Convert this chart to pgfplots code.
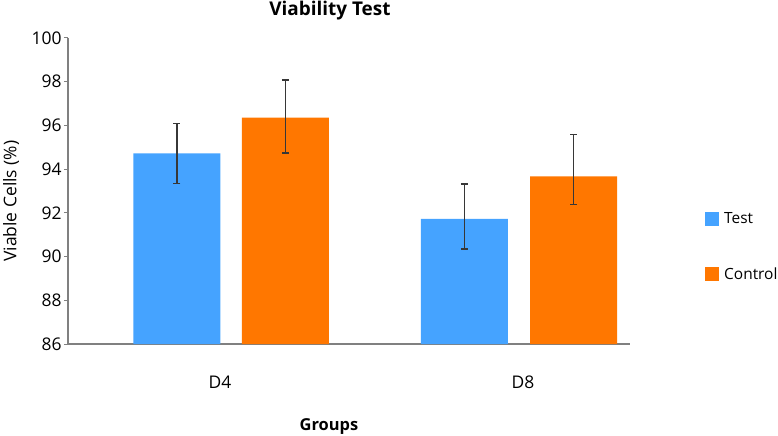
\documentclass[border=0pt]{standalone}
\usepackage{fontspec}
\setmainfont{Open Sans}
\usepackage{pgfplots}
\pgfplotsset{compat=1.18}
\definecolor{testblue}{RGB}{69,163,255}
\definecolor{ctrlorange}{RGB}{255,119,0}
\definecolor{axgray}{RGB}{128,128,128}
\definecolor{errgray}{RGB}{55,55,55}
\begin{document}
\begin{tikzpicture}
\useasboundingbox (-68bp,-92bp) rectangle (710bp,344bp);
\begin{axis}[
  at={(0,0)}, anchor=south west,
  scale only axis,
  width=562bp, height=306bp,
  xmin=-0.5687, xmax=1.3861,
  ymin=86, ymax=100,
  ytick={86,88,...,100},
  xtick={-0.04,1.014},
  xticklabels={D4,D8},
  axis lines*=left,
  axis line style={axgray, line width=1.2bp},
  tick align=outside,
  major tick length=4bp,
  ytick style={axgray, line width=1bp},
  xtick style={draw=none},
  /pgf/number format/assume math mode=true,
  tick label style={font=\fontsize{17.5}{20}\selectfont},
  yticklabel style={xshift=1bp},
  xticklabel style={yshift=-24bp},
  title={\textbf{Viability Test}},
  title style={at={(axis description cs:0.466,1.069)}, anchor=center, yshift=0pt, font=\fontsize{19}{22}\selectfont},
  ylabel={Viable Cells (\%)},
  ylabel style={at={(axis description cs:-0.1014,0.467)}, anchor=center, font=\fontsize{17.5}{20}\selectfont},
  xlabel={\textbf{Groups}},
  xlabel style={at={(axis description cs:0.4644,-0.2712)}, anchor=center, font=\fontsize{16.5}{19}\selectfont},
  ybar, bar shift=0pt, bar width=87bp,
  legend style={draw=none, fill=none, at={(axis description cs:1.1335,0.436)}, anchor=north west,
    inner sep=0pt, row sep=38bp, font=\fontsize{15.5}{18}\selectfont,
    /tikz/every odd column/.append style={column sep=3bp}},
  legend cell align=left,
  legend image code/.code={\fill[#1,draw=none] (0bp,-7bp) rectangle (14bp,7bp);},
  error bars/y dir=both,
  error bars/y explicit,
  error bars/error bar style={errgray, line width=1.6bp},
  error bars/error mark options={rotate=90, errgray, mark size=3.5bp, line width=1.6bp},
]
\addplot[fill=testblue, draw=none] coordinates {
  (-0.1896,94.72) += (0,1.37) -= (0,1.37)
  (0.8104,91.73) += (0,1.59) -= (0,1.37)
};
\addlegendentry{Test}
\addplot[fill=ctrlorange, draw=none] coordinates {
  (0.1878,96.36) += (0,1.73) -= (0,1.62)
  (1.1896,93.67) += (0,1.92) -= (0,1.29)
};
\addlegendentry{Control}
\end{axis}
\end{tikzpicture}
\end{document}
